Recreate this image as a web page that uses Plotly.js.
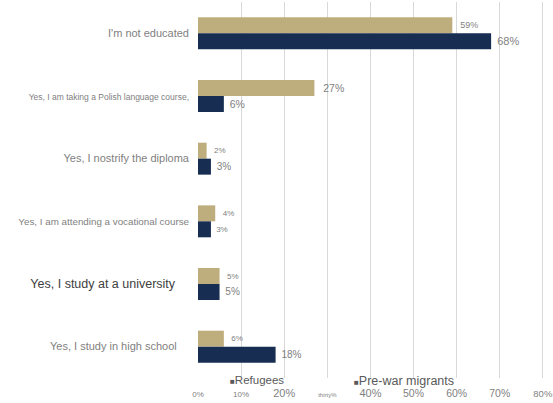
<!DOCTYPE html>
<html><head><meta charset="utf-8">
<script src="https://cdn.plot.ly/plotly-3.0.1.min.js"></script>
<style>html,body{margin:0;padding:0;background:#fff}#c{width:553px;height:403px}</style>
</head><body><div id="c"></div>
<script>
var categories = ["I'm not educated", "Yes, I am taking a Polish language course,", "Yes, I nostrify the diploma", "Yes, I am attending a vocational course", "Yes, I study at a university", "Yes, I study in high school"];
var refugees = [59, 27, 2, 4, 5, 6];
var prewar = [68, 6, 3, 3, 5, 18];
var seriesNames = ["Refugees", "Pre-war migrants"];
var xTickVals = [0, 10, 20, 30, 40, 50, 60, 70, 80];
var xTickText = ["0%", "10%", "20%", "thirty%", "40%", "50%", "60%", "70%", "80%"];

// styling (kept apart from data)
var catSizes = [11, 8.5, 11, 9.8, 12.5, 11];
var catColors = ["#7f7f7f", "#7f7f7f", "#7f7f7f", "#7f7f7f", "#404040", "#7f7f7f"];
var catPad = [0, 0, 0, 0, 4, 4];
var xTickSizes = [8, 8, 11, 6, 11, 10.5, 10.5, 10.5, 9.5];
var refLabelSizes = [9, 10.5, 8, 8, 8, 8];
var preLabelSizes = [11, 10.5, 10, 8, 10, 10];

var catText = categories.map(function (c, i) {
  return '<span style="font-size:' + catSizes[i] + 'px;color:' + catColors[i] + '">' + c +
    new Array(catPad[i] + 1).join('\u00a0') + '</span>';
});
var xText = xTickText.map(function (t, i) {
  return '<span style="font-size:' + xTickSizes[i] + 'px">' + t + '</span>';
});

var traces = [
  {
    type: 'bar', orientation: 'h', name: seriesNames[0],
    y: categories, x: refugees,
    marker: { color: '#BFAE7D' },
    text: refugees.map(function (v) { return '\u00a0\u00a0' + v + '%'; }),
    textposition: 'outside', cliponaxis: false,
    textfont: { color: '#7f7f7f', size: refLabelSizes, family: 'Liberation Sans, Arial, sans-serif' }
  },
  {
    type: 'bar', orientation: 'h', name: seriesNames[1],
    y: categories, x: prewar,
    marker: { color: '#172E52' },
    text: prewar.map(function (v) { return '\u00a0' + v + '%'; }),
    textposition: 'outside', cliponaxis: false,
    textfont: { color: '#7f7f7f', size: preLabelSizes, family: 'Liberation Sans, Arial, sans-serif' }
  }
];

var layout = {
  width: 553, height: 403,
  margin: { l: 198, r: 8, t: 2, b: 25 },
  paper_bgcolor: '#ffffff', plot_bgcolor: '#ffffff',
  font: { family: 'Liberation Sans, Arial, sans-serif', color: '#7f7f7f', size: 10 },
  barmode: 'group', bargap: 0.49, bargroupgap: 0,
  showlegend: false,
  xaxis: {
    range: [0, 80.5], tickmode: 'array', tickvals: xTickVals, ticktext: xText,
    showgrid: true, gridcolor: '#d9d9d9', gridwidth: 1, zeroline: false,
    showline: false, ticks: '', ticklabelstandoff: 8, ticklabeloverflow: 'allow',
    tickfont: { color: '#7f7f7f' }, fixedrange: true
  },
  yaxis: {
    autorange: 'reversed', tickmode: 'array', tickvals: categories, ticktext: catText,
    showgrid: false, zeroline: false, showline: false, ticks: '',
    ticklabelstandoff: 8, fixedrange: true
  },
  annotations: [
    { xref: 'paper', yref: 'paper', x: (228 - 198) / 347, y: (378 - 380) / 376,
      xanchor: 'left', yanchor: 'middle', showarrow: false,
      text: '<span style="font-size:8px">\u25A0</span>' + seriesNames[0],
      font: { size: 11.5, color: '#595959' } },
    { xref: 'paper', yref: 'paper', x: (352 - 198) / 347, y: (378 - 381) / 376,
      xanchor: 'left', yanchor: 'middle', showarrow: false,
      text: '<span style="font-size:8px">\u25A0</span>' + seriesNames[1],
      font: { size: 12.5, color: '#595959' } }
  ]
};

Plotly.newPlot('c', traces, layout, { displayModeBar: false, staticPlot: true });
</script>
</body></html>
